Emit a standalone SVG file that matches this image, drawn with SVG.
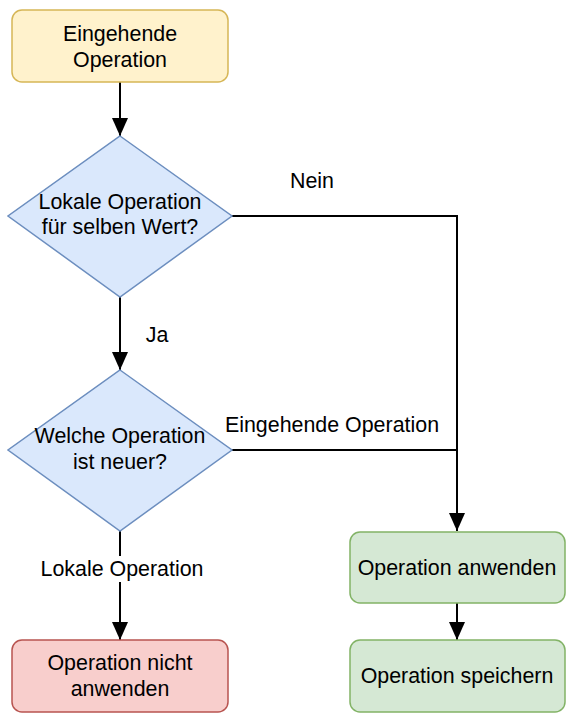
<svg xmlns="http://www.w3.org/2000/svg" width="578" height="722" viewBox="0 0 578 722">
<defs>
<style>
text{font-family:"Liberation Sans",Arial,sans-serif;font-size:21.4px;fill:#000;text-anchor:middle}
.e{fill:none;stroke:#000;stroke-width:2}
.y{fill:#fff2cc;stroke:#d6b656;stroke-width:1.5}
.b{fill:#dae8fc;stroke:#6c8ebf;stroke-width:1.5}
.g{fill:#d5e8d4;stroke:#82b366;stroke-width:1.5}
.r{fill:#f8cecc;stroke:#b85450;stroke-width:1.5}
</style>
<marker id="a" viewBox="0 0 18 16" refX="18" refY="8" markerWidth="18" markerHeight="16" markerUnits="userSpaceOnUse" orient="auto">
<path d="M0,0 L18,8 L0,16 Z" fill="#000"/>
</marker>
</defs>
<g id="connectors">
<path class="e" d="M120,82 V136" marker-end="url(#a)"/>
<path class="e" d="M232,216 H457 V531" marker-end="url(#a)"/>
<path class="e" d="M120,297 V370" marker-end="url(#a)"/>
<path class="e" d="M232,450 H457"/>
<path class="e" d="M120,531 V640" marker-end="url(#a)"/>
<path class="e" d="M457,603 V640" marker-end="url(#a)"/>
<text x="312" y="188">Nein</text>
<text x="157" y="342">Ja</text>
<text x="332" y="432">Eingehende Operation</text>
<rect x="36" y="556" width="170" height="26" fill="#fff"/>
<text x="122" y="576">Lokale Operation</text>
</g>
<g id="start">
<rect class="y" x="12" y="10" width="216" height="72" rx="10"/>
<text x="120" y="41">Eingehende</text>
<text x="120" y="67">Operation</text>
</g>
<g id="decision1">
<path class="b" d="M120,136 L232,216 L120,297 L8,216 Z"/>
<text x="120" y="209">Lokale Operation</text>
<text x="120" y="234">für selben Wert?</text>
</g>
<g id="decision2">
<path class="b" d="M120,370 L232,450 L120,531 L8,450 Z"/>
<text x="120" y="443">Welche Operation</text>
<text x="120" y="469">ist neuer?</text>
</g>
<g id="notapply">
<rect class="r" x="12" y="640" width="216" height="72" rx="10"/>
<text x="120" y="670">Operation nicht</text>
<text x="120" y="696">anwenden</text>
</g>
<g id="apply">
<rect class="g" x="350" y="532" width="215" height="71" rx="10"/>
<text x="457" y="575">Operation anwenden</text>
</g>
<g id="save">
<rect class="g" x="350" y="640" width="215" height="72" rx="10"/>
<text x="457" y="683">Operation speichern</text>
</g>
</svg>
